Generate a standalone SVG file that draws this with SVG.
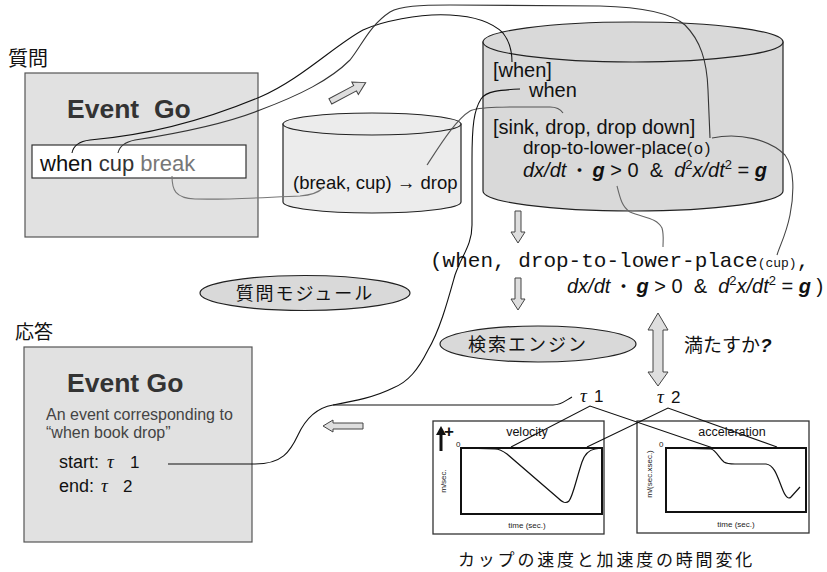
<svg xmlns="http://www.w3.org/2000/svg" width="827" height="572" viewBox="0 0 827 572">
<style>
text { font-family: "Liberation Sans", "Noto Sans CJK JP", sans-serif; fill: #111; }
.jp { font-family: "Noto Sans CJK JP", sans-serif; }
.box { fill: #e1e1e1; stroke: #555; stroke-width: 1.2; }
.blk { fill: #dedede; stroke: #444; stroke-width: 1; }
.cur { fill: none; stroke-width: 1.1; }
.mono { font-family: "Liberation Mono", monospace; }
.tau { font-family: "Liberation Serif", serif; font-style: italic; }
.g { font-weight: bold; font-style: italic; }
.i { font-style: italic; }
.plot { fill: none; stroke: #111; stroke-width: 2; }
.panel { fill: #fff; stroke: #333; stroke-width: 1.3; }
.curve { fill: none; stroke: #111; stroke-width: 1.2; }
.lbl { font-size: 8px; fill: #222; }
</style>

<text class="jp" x="8" y="66" font-size="20">質問</text>
<text class="jp" x="15" y="339" font-size="19">応答</text>

<g id="query-box">
  <rect class="box" x="25" y="73" width="233" height="164"/>
  <text x="67" y="118" font-size="26.5" font-weight="bold" style="fill:#333" xml:space="preserve">Event  Go</text>
  <rect x="32" y="145" width="214" height="33" fill="#fff" stroke="#333" stroke-width="1.2"/>
  <text x="40" y="171" font-size="22" xml:space="preserve"><tspan>when </tspan><tspan style="fill:#333">cup </tspan><tspan style="fill:#777">break</tspan></text>
</g>

<g id="small-db">
  <path d="M283,124 L283,202 A89,11 0 0 0 461,202 L461,124 Z" fill="#ececec" stroke="#222" stroke-width="1.2"/>
  <ellipse cx="372" cy="124" rx="89" ry="11" fill="#ececec" stroke="#222" stroke-width="1.2"/>
  <text x="293" y="189" font-size="18.5">(break, cup) → drop</text>
</g>

<g id="big-db">
  <path d="M483,42 L483,191 A150,20 0 0 0 783,191 L783,42 Z" fill="#d9d9d9" stroke="#222" stroke-width="1.2"/>
  <ellipse cx="633" cy="42" rx="150" ry="20" fill="#d9d9d9" stroke="#222" stroke-width="1.2"/>
  <text x="493" y="77" font-size="20">[when]</text>
  <text x="529" y="97" font-size="20">when</text>
  <text x="493" y="134" font-size="20">[sink, drop, drop down]</text>
  <text x="523" y="154" font-size="19">drop-to-lower-place<tspan font-size="16" letter-spacing="2">(o)</tspan></text>
  <text x="523" y="177" font-size="20" xml:space="preserve"><tspan class="i">dx/dt</tspan><tspan class="jp" font-size="18"> ・ </tspan><tspan class="g">g</tspan> &gt; 0  &amp;  <tspan class="i">d</tspan><tspan font-size="13" dy="-8">2</tspan><tspan class="i" dy="8">x/dt</tspan><tspan font-size="13" dy="-8">2</tspan><tspan dy="8"> = </tspan><tspan class="g">g</tspan></text>
</g>

<g id="mono-expr">
  <text class="mono" x="430" y="267" font-size="21" xml:space="preserve">(when, drop-to-lower-place<tspan font-size="13">(cup)</tspan>,</text>
  <text x="567" y="293" font-size="20" xml:space="preserve"><tspan class="i">dx/dt</tspan><tspan class="jp" font-size="18"> ・ </tspan><tspan class="g">g</tspan> &gt; 0  &amp;  <tspan class="i">d</tspan><tspan font-size="13" dy="-8">2</tspan><tspan class="i" dy="8">x/dt</tspan><tspan font-size="13" dy="-8">2</tspan><tspan dy="8"> = </tspan><tspan class="g">g</tspan> )</text>
</g>

<g id="q-module">
  <ellipse cx="305" cy="293" rx="105" ry="17.5" fill="#d9d9d9" stroke="#222" stroke-width="1.2"/>
  <text class="jp" x="305" y="300" font-size="18" letter-spacing="2" text-anchor="middle">質問モジュール</text>
</g>

<g id="search-engine">
  <ellipse cx="538" cy="344" rx="98" ry="18" fill="#d9d9d9" stroke="#222" stroke-width="1.2"/>
  <text class="jp" x="468" y="351" font-size="18" letter-spacing="2">検索エンジン</text>
</g>

<g id="satisfy">
  <polygon class="blk" points="658,313 668,330 663,330 663,372 668,372 658,386 648,372 653,372 653,330 648,330"/>
  <text class="jp" x="684" y="352" font-size="19">満たすか<tspan font-family="Liberation Sans" font-weight="bold" font-style="italic">?</tspan></text>
</g>

<g id="response-box">
  <rect class="box" x="24" y="347" width="228" height="195"/>
  <text x="67" y="392" font-size="26.5" font-weight="bold" style="fill:#333">Event Go</text>
  <text x="46" y="420" font-size="16" style="fill:#444">An event corresponding to</text>
  <text x="46" y="438" font-size="16" style="fill:#444">“when book drop”</text>
  <text x="59" y="468" font-size="18">start:</text>
  <text class="tau" x="107" y="468" font-size="19">τ</text>
  <text x="130" y="468" font-size="17">1</text>
  <text x="59" y="492" font-size="18">end:</text>
  <text class="tau" x="101" y="492" font-size="19">τ</text>
  <text x="123" y="492" font-size="17">2</text>
</g>

<g id="tau-labels">
  <text class="tau" x="580" y="402" font-size="19">τ</text>
  <text x="594" y="402" font-size="17">1</text>
  <text class="tau" x="657" y="403" font-size="19">τ</text>
  <text x="671" y="403" font-size="17">2</text>
</g>

<g id="velocity-graph">
  <rect class="panel" x="433" y="421" width="171" height="113"/>
  <rect class="plot" x="461" y="448" width="141" height="66"/>
  <text x="527" y="436" font-size="12.5" text-anchor="middle">velocity</text>
  <line x1="441" y1="451" x2="441" y2="433" stroke="#111" stroke-width="3"/>
  <polygon points="441,426 446,435 436,435" fill="#111"/>
  <text x="444" y="437" font-size="17" font-weight="bold">+</text>
  <text class="lbl" x="456" y="447" font-size="7">0</text>
  <text class="lbl" transform="translate(446,481) rotate(-90)" text-anchor="middle">m/sec.</text>
  <text class="lbl" x="527" y="528" text-anchor="middle">time (sec.)</text>
  <path class="curve" d="M461,448 L495,449 C500,449 503,451 507,454 L558,498 C563,503 566,504 569,501 C573,496 576,480 582,462 C585,453 589,450 595,449 L602,448"/>
</g>

<g id="accel-graph">
  <rect class="panel" x="637" y="421" width="172" height="112"/>
  <rect class="plot" x="666" y="448" width="140" height="64"/>
  <text x="732" y="436" font-size="12.5" text-anchor="middle">acceleration</text>
  <text class="lbl" x="659" y="447" font-size="7">0</text>
  <text class="lbl" transform="translate(652,474) rotate(-90)" text-anchor="middle">m/(sec.xsec.)</text>
  <text class="lbl" x="736" y="527" text-anchor="middle">time (sec.)</text>
  <path class="curve" d="M666,448 L711,449 C716,450 719,458 724,462 C727,464 730,464 735,464 L766,464 C774,465 777,475 782,488 C785,496 788,500 791,497 L800,487"/>
</g>

<text id="caption" class="jp" x="458" y="566" font-size="17" letter-spacing="2.8">カップの速度と加速度の時間変化</text>

<g id="connectors">
  <polygon class="blk" points="515,211 521,211 521,232 525,232 518,243 511,232 515,232"/>
  <polygon class="blk" points="515,278 521,278 521,299 525,299 518,310 511,299 515,299"/>
  <polygon class="blk" points="323,426 333,420 333,423 363,423 363,429 333,429 333,432"/>
  <polygon class="blk" transform="translate(348,92) rotate(-28)" points="-20,-3 8,-3 8,-7 20,0 8,7 8,3 -20,3"/>
  <path class="cur" stroke="#111" d="M72,153 Q74,142 90,140 C150,135 210,118 260,97 C300,80 335,45 363,30 C380,22 420,13 450,15 C470,16 490,20 503,33 C510,42 512,52 512,62"/>
  <path class="cur" stroke="#333" d="M118,153 Q120,143 135,140 C180,133 230,122 260,110 C300,95 330,80 350,60 C362,45 370,25 390,12 C400,6 420,5 450,5 L600,6 C640,7 670,12 685,25 C700,40 707,60 708,90 L710,138"/>
  <path class="cur" stroke="#444" d="M712,138 C740,132 770,140 785,155 C795,168 794,195 790,215 C786,235 780,245 777,255"/>
  <path class="cur" stroke="#666" d="M617,186 C620,198 622,207 630,212 C645,218 657,218 662,228 C664,235 663,240 663,247"/>
  <path class="cur" stroke="#777" d="M172,176 C172,190 175,198 195,199 C230,200 270,197 300,196 C312,195 318,193 323,188"/>
  <path class="cur" stroke="#555" d="M427,165 C437,150 455,120 470,111 C480,106 520,107 550,107 C557,107 561,110 563,113"/>
  <path class="cur" stroke="#111" d="M520,89 C500,90 486,91 481,99 C474,110 472,125 472,160 L472,225 C472,245 462,255 455,275 C448,300 440,330 428,350 C418,370 408,382 393,388 C375,397 355,401 333,405 C315,408 305,420 298,435 C290,452 282,464 255,464 L168,464"/>
  <path class="cur" stroke="#111" d="M333,405 L553,405 C562,405 566,400 572,397"/>
  <path class="cur" stroke="#111" d="M511,447 L590,406 L713,448"/>
  <path class="cur" stroke="#111" d="M587,447 L668,408 L777,447"/>
</g>
</svg>
